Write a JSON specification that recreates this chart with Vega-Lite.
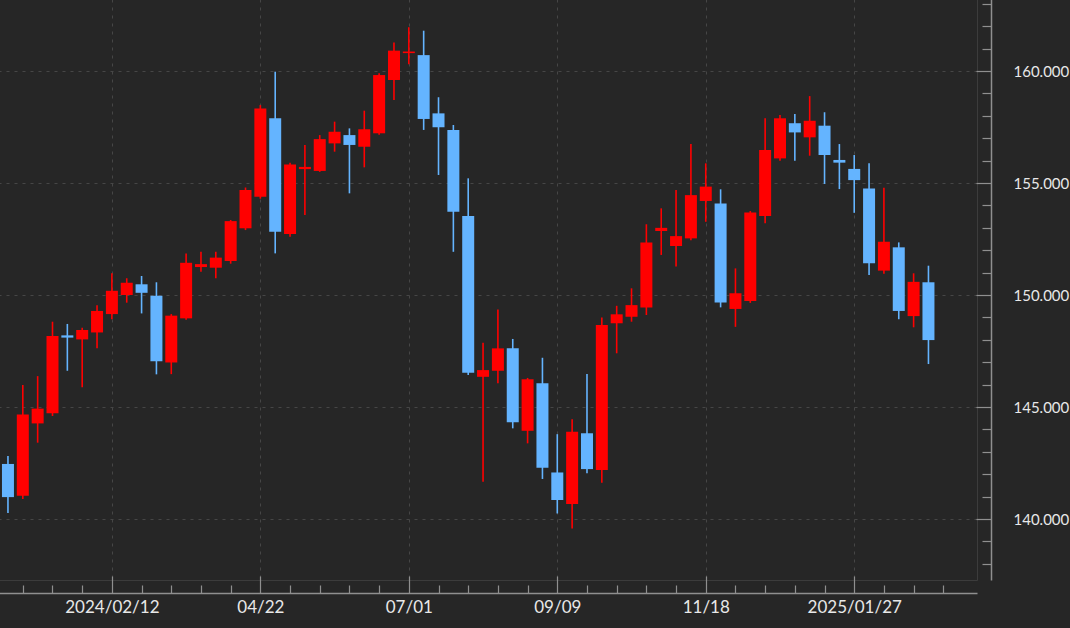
{
  "$schema": "https://vega.github.io/schema/vega-lite/v6.json",
  "autosize": "none",
  "width": 978,
  "height": 581,
  "padding": {"left": -1, "top": -1, "right": 93, "bottom": 48},
  "background": "#262626",
  "data": {"values": [
    {"date": "2023-12-25", "open": 142.46, "high": 142.81, "low": 140.27, "close": 140.98},
    {"date": "2024-01-01", "open": 141.04, "high": 145.98, "low": 140.9, "close": 144.67},
    {"date": "2024-01-08", "open": 144.27, "high": 146.38, "low": 143.41, "close": 144.93},
    {"date": "2024-01-15", "open": 144.72, "high": 148.81, "low": 144.6, "close": 148.17},
    {"date": "2024-01-22", "open": 148.2, "high": 148.71, "low": 146.62, "close": 148.1},
    {"date": "2024-01-29", "open": 148.02, "high": 148.54, "low": 145.88, "close": 148.44},
    {"date": "2024-02-05", "open": 148.33, "high": 149.55, "low": 147.62, "close": 149.29},
    {"date": "2024-02-12", "open": 149.15, "high": 150.97, "low": 148.92, "close": 150.19},
    {"date": "2024-02-19", "open": 150.0, "high": 150.75, "low": 149.66, "close": 150.55},
    {"date": "2024-02-26", "open": 150.48, "high": 150.85, "low": 149.18, "close": 150.1},
    {"date": "2024-03-04", "open": 149.97, "high": 150.57, "low": 146.46, "close": 147.05},
    {"date": "2024-03-11", "open": 146.99, "high": 149.15, "low": 146.47, "close": 149.08},
    {"date": "2024-03-18", "open": 148.96, "high": 151.86, "low": 148.9, "close": 151.44},
    {"date": "2024-03-25", "open": 151.25, "high": 151.93, "low": 151.04, "close": 151.38},
    {"date": "2024-04-01", "open": 151.22, "high": 151.93, "low": 150.75, "close": 151.67},
    {"date": "2024-04-08", "open": 151.52, "high": 153.35, "low": 151.4, "close": 153.3},
    {"date": "2024-04-15", "open": 152.98, "high": 154.8, "low": 152.9, "close": 154.69},
    {"date": "2024-04-22", "open": 154.39, "high": 158.48, "low": 154.3, "close": 158.33},
    {"date": "2024-04-29", "open": 157.89, "high": 159.97, "low": 151.86, "close": 152.83},
    {"date": "2024-05-06", "open": 152.72, "high": 155.91, "low": 152.6, "close": 155.83},
    {"date": "2024-05-13", "open": 155.62, "high": 156.7, "low": 153.57, "close": 155.72},
    {"date": "2024-05-20", "open": 155.54, "high": 157.14, "low": 155.5, "close": 156.96},
    {"date": "2024-05-27", "open": 156.77, "high": 157.74, "low": 156.4, "close": 157.29},
    {"date": "2024-06-03", "open": 157.14, "high": 157.44, "low": 154.54, "close": 156.7},
    {"date": "2024-06-10", "open": 156.62, "high": 158.23, "low": 155.7, "close": 157.4},
    {"date": "2024-06-17", "open": 157.22, "high": 159.9, "low": 157.15, "close": 159.82},
    {"date": "2024-06-24", "open": 159.6, "high": 161.27, "low": 158.71, "close": 160.91},
    {"date": "2024-07-01", "open": 160.8, "high": 161.95, "low": 160.3, "close": 160.87},
    {"date": "2024-07-08", "open": 160.71, "high": 161.8, "low": 157.37, "close": 157.86},
    {"date": "2024-07-15", "open": 158.11, "high": 158.83, "low": 155.36, "close": 157.49},
    {"date": "2024-07-22", "open": 157.37, "high": 157.59, "low": 151.93, "close": 153.72},
    {"date": "2024-07-29", "open": 153.53, "high": 155.21, "low": 146.43, "close": 146.53},
    {"date": "2024-08-05", "open": 146.35, "high": 147.87, "low": 141.67, "close": 146.65},
    {"date": "2024-08-12", "open": 146.62, "high": 149.36, "low": 146.06, "close": 147.62},
    {"date": "2024-08-19", "open": 147.62, "high": 148.04, "low": 144.05, "close": 144.32},
    {"date": "2024-08-26", "open": 143.94, "high": 146.3, "low": 143.38, "close": 146.24},
    {"date": "2024-09-02", "open": 146.06, "high": 147.2, "low": 141.79, "close": 142.29},
    {"date": "2024-09-09", "open": 142.08, "high": 143.79, "low": 140.25, "close": 140.85},
    {"date": "2024-09-16", "open": 140.67, "high": 144.46, "low": 139.58, "close": 143.9},
    {"date": "2024-09-23", "open": 143.83, "high": 146.47, "low": 142.04, "close": 142.23},
    {"date": "2024-09-30", "open": 142.19, "high": 149.0, "low": 141.62, "close": 148.66},
    {"date": "2024-10-07", "open": 148.74, "high": 149.52, "low": 147.4, "close": 149.14},
    {"date": "2024-10-14", "open": 149.03, "high": 150.3, "low": 148.81, "close": 149.55},
    {"date": "2024-10-21", "open": 149.44, "high": 153.16, "low": 149.11, "close": 152.35},
    {"date": "2024-10-28", "open": 152.86, "high": 153.87, "low": 151.79, "close": 153.0},
    {"date": "2024-11-04", "open": 152.19, "high": 154.69, "low": 151.27, "close": 152.63},
    {"date": "2024-11-11", "open": 152.53, "high": 156.74, "low": 152.45, "close": 154.46},
    {"date": "2024-11-18", "open": 154.2, "high": 155.88, "low": 153.27, "close": 154.84},
    {"date": "2024-11-25", "open": 154.09, "high": 154.72, "low": 149.45, "close": 149.67},
    {"date": "2024-12-02", "open": 149.38, "high": 151.19, "low": 148.58, "close": 150.08},
    {"date": "2024-12-09", "open": 149.73, "high": 153.75, "low": 149.65, "close": 153.69},
    {"date": "2024-12-16", "open": 153.53, "high": 157.89, "low": 153.2, "close": 156.47},
    {"date": "2024-12-23", "open": 156.1, "high": 158.04, "low": 156.0, "close": 157.89},
    {"date": "2024-12-30", "open": 157.67, "high": 158.08, "low": 156.0, "close": 157.26},
    {"date": "2025-01-06", "open": 157.04, "high": 158.88, "low": 156.22, "close": 157.78},
    {"date": "2025-01-13", "open": 157.56, "high": 158.16, "low": 154.96, "close": 156.25},
    {"date": "2025-01-20", "open": 156.03, "high": 156.74, "low": 154.73, "close": 155.91},
    {"date": "2025-01-27", "open": 155.63, "high": 156.25, "low": 153.67, "close": 155.13},
    {"date": "2025-02-03", "open": 154.76, "high": 155.88, "low": 150.89, "close": 151.42},
    {"date": "2025-02-10", "open": 151.09, "high": 154.79, "low": 150.95, "close": 152.38},
    {"date": "2025-02-17", "open": 152.13, "high": 152.35, "low": 148.92, "close": 149.29},
    {"date": "2025-02-24", "open": 149.06, "high": 150.97, "low": 148.56, "close": 150.59},
    {"date": "2025-03-03", "open": 150.57, "high": 151.31, "low": 146.92, "close": 147.99}
  ]},
  "encoding": {
    "x": {
      "field": "date",
      "type": "temporal",
      "scale": {
        "type": "utc",
        "domain": [
          {"year": 2023, "month": 12, "date": 23, "hours": 3, "minutes": 12, "utc": true},
          {"year": 2025, "month": 3, "date": 23, "hours": 12, "minutes": 43, "utc": true}
        ]
      },
      "axis": {
        "title": null,
        "offset": 13,
        "values": [
          {"year": 2024, "month": 1, "date": 1, "utc": true},
          {"year": 2024, "month": 1, "date": 15, "utc": true},
          {"year": 2024, "month": 1, "date": 29, "utc": true},
          {"year": 2024, "month": 2, "date": 12, "utc": true},
          {"year": 2024, "month": 2, "date": 26, "utc": true},
          {"year": 2024, "month": 3, "date": 11, "utc": true},
          {"year": 2024, "month": 3, "date": 25, "utc": true},
          {"year": 2024, "month": 4, "date": 8, "utc": true},
          {"year": 2024, "month": 4, "date": 22, "utc": true},
          {"year": 2024, "month": 5, "date": 6, "utc": true},
          {"year": 2024, "month": 5, "date": 20, "utc": true},
          {"year": 2024, "month": 6, "date": 3, "utc": true},
          {"year": 2024, "month": 6, "date": 17, "utc": true},
          {"year": 2024, "month": 7, "date": 1, "utc": true},
          {"year": 2024, "month": 7, "date": 15, "utc": true},
          {"year": 2024, "month": 7, "date": 29, "utc": true},
          {"year": 2024, "month": 8, "date": 12, "utc": true},
          {"year": 2024, "month": 8, "date": 26, "utc": true},
          {"year": 2024, "month": 9, "date": 9, "utc": true},
          {"year": 2024, "month": 9, "date": 23, "utc": true},
          {"year": 2024, "month": 10, "date": 7, "utc": true},
          {"year": 2024, "month": 10, "date": 21, "utc": true},
          {"year": 2024, "month": 11, "date": 4, "utc": true},
          {"year": 2024, "month": 11, "date": 18, "utc": true},
          {"year": 2024, "month": 12, "date": 2, "utc": true},
          {"year": 2024, "month": 12, "date": 16, "utc": true},
          {"year": 2024, "month": 12, "date": 30, "utc": true},
          {"year": 2025, "month": 1, "date": 13, "utc": true},
          {"year": 2025, "month": 1, "date": 27, "utc": true},
          {"year": 2025, "month": 2, "date": 10, "utc": true},
          {"year": 2025, "month": 2, "date": 24, "utc": true},
          {"year": 2025, "month": 3, "date": 10, "utc": true}
        ],
        "labelExpr": "(round((datum.value - utc(2024,1,12)) / 604800000) % 10 != 0) ? '' : ((datum.value == utc(2024,1,12) || utcmonth(datum.value) == 0) ? utcFormat(datum.value, '%Y/%m/%d') : utcFormat(datum.value, '%m/%d'))",
        "labelOverlap": false,
        "labelFlush": false,
        "labelPadding": 23,
        "tickSize": {"condition": {"test": "round((datum.value - utc(2024,1,12)) / 604800000) % 10 == 0", "value": -17}, "value": -8},
        "gridOpacity": {"condition": {"test": "round((datum.value - utc(2024,1,12)) / 604800000) % 10 == 0", "value": 1}, "value": 0},
        "grid": true
      }
    }
  },
  "layer": [
    {
      "mark": {"type": "rule", "strokeWidth": 1.6},
      "encoding": {
        "y": {
          "field": "low",
          "type": "quantitative",
          "scale": {"domain": [137.28, 163.215], "nice": false, "zero": false},
          "axis": {
            "title": null,
            "orient": "right",
            "offset": 14,
            "values": [138, 139, 140, 141, 142, 143, 144, 145, 146, 147, 148, 149, 150, 151, 152, 153, 154, 155, 156, 157, 158, 159, 160, 161, 162, 163],
            "labelExpr": "datum.value % 5 == 0 ? format(datum.value, '.3f') : ''",
            "labelOverlap": false,
            "labelFlush": false,
            "labelFontSize": 15,
            "labelPadding": 37,
            "tickSize": {"condition": {"test": "datum.value % 5 == 0", "value": -15}, "value": -9},
            "gridOpacity": {"condition": {"test": "datum.value % 5 == 0", "value": 1}, "value": 0},
            "grid": true
          }
        },
        "y2": {"field": "high"},
        "color": {"condition": {"test": "datum.close >= datum.open", "value": "#ff0000"}, "value": "#64b4ff"}
      }
    },
    {
      "mark": {"type": "bar", "width": 12},
      "encoding": {
        "y": {
          "field": "open",
          "type": "quantitative",
          "axis": {
            "title": null,
            "orient": "right",
            "offset": 14,
            "values": [138, 139, 140, 141, 142, 143, 144, 145, 146, 147, 148, 149, 150, 151, 152, 153, 154, 155, 156, 157, 158, 159, 160, 161, 162, 163],
            "labelExpr": "datum.value % 5 == 0 ? format(datum.value, '.3f') : ''",
            "labelOverlap": false,
            "labelFlush": false,
            "labelFontSize": 15,
            "labelPadding": 37,
            "tickSize": {"condition": {"test": "datum.value % 5 == 0", "value": -15}, "value": -9},
            "gridOpacity": {"condition": {"test": "datum.value % 5 == 0", "value": 1}, "value": 0},
            "grid": true
          }
        },
        "y2": {"field": "close"},
        "color": {"condition": {"test": "datum.close >= datum.open", "value": "#ff0000"}, "value": "#64b4ff"}
      }
    }
  ],
  "config": {
    "view": {"stroke": "#3c3c3c", "strokeWidth": 1},
    "axis": {
      "domainColor": "#8f8f8f",
      "domainWidth": 1.5,
      "tickColor": "#8f8f8f",
      "tickWidth": 1.2,
      "labelColor": "#e8e8e8",
      "labelFont": "Lato",
      "labelFontSize": 17,
      "gridColor": "#464646",
      "gridDash": [3, 5],
      "gridWidth": 1
    }
  }
}
